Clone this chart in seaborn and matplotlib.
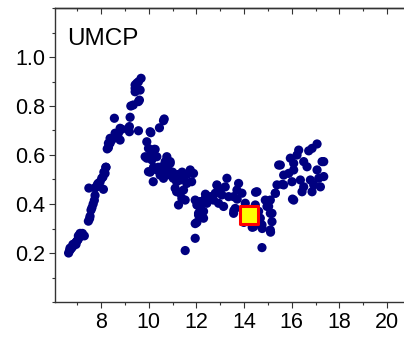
import numpy as np
import pandas as pd
import matplotlib
matplotlib.use("Agg")
import matplotlib.pyplot as plt
import seaborn as sns
from matplotlib.ticker import MultipleLocator

# ---- data ----
seg1_x = [6.64, 6.68, 6.72, 6.76, 6.80, 6.84, 6.88, 6.92, 6.96, 7.00, 7.04, 7.10, 7.16, 7.22, 7.30, 6.70, 6.82, 6.95, 7.05, 7.12]
seg1_y = [0.20, 0.21, 0.215, 0.22, 0.225, 0.23, 0.235, 0.24, 0.245, 0.25, 0.255, 0.265, 0.275, 0.28, 0.27, 0.22, 0.235, 0.235, 0.27, 0.28]

seg2_x = [7.47, 7.52, 7.54, 7.58, 7.62, 7.67, 7.72, 7.75, 7.49, 7.75, 7.80, 7.89, 7.96, 8.10, 8.03, 8.08, 8.17, 8.20, 7.85, 8.12]
seg2_y = [0.33, 0.34, 0.35, 0.375, 0.385, 0.40, 0.415, 0.435, 0.465, 0.465, 0.47, 0.485, 0.49, 0.46, 0.505, 0.51, 0.525, 0.55, 0.48, 0.53]

seg3_x = [8.21, 8.26, 8.31, 8.31, 8.38, 8.38, 8.45, 8.52, 8.59, 8.59, 8.66, 8.73, 8.80, 8.80, 8.87, 8.56, 9.15, 9.19, 9.19, 9.22,
          9.25, 9.35, 9.43, 9.43, 9.43, 9.50, 9.57, 9.64, 9.68, 9.61, 9.57, 9.57]
seg3_y = [0.55, 0.625, 0.63, 0.648, 0.648, 0.668, 0.661, 0.67, 0.675, 0.689, 0.68, 0.689, 0.661, 0.709, 0.705, 0.75, 0.709, 0.716, 0.695, 0.754,
          0.80, 0.804, 0.858, 0.872, 0.886, 0.893, 0.899, 0.865, 0.913, 0.824, 0.818, 0.699]

seg4_x = [9.92, 9.99, 10.06, 10.09, 10.45, 10.62, 10.65, 10.23, 10.27, 9.92, 9.85, 10.06, 10.13, 10.34, 10.76, 10.90, 9.99, 10.06,
          10.34, 10.55, 10.69, 10.90, 10.76, 10.19, 10.48, 10.62, 10.90, 11.03, 11.17, 11.32, 11.46, 11.74, 11.88, 11.80, 11.60,
          11.11, 11.17, 11.32, 11.46, 11.39, 11.25, 11.53, 11.53, 10.20, 10.40, 10.50, 10.80, 11.00, 11.20, 11.40, 11.60]
seg4_y = [0.654, 0.627, 0.695, 0.691, 0.711, 0.74, 0.747, 0.623, 0.623, 0.587, 0.593, 0.60, 0.58, 0.593, 0.593, 0.566, 0.532, 0.53,
          0.539, 0.552, 0.573, 0.573, 0.532, 0.491, 0.518, 0.505, 0.518, 0.505, 0.491, 0.498, 0.505, 0.539, 0.525, 0.491, 0.484,
          0.464, 0.45, 0.444, 0.457, 0.423, 0.396, 0.416, 0.21, 0.55, 0.55, 0.53, 0.55, 0.53, 0.52, 0.53, 0.52]

seg5_x = [11.95, 11.95, 12.02, 12.09, 12.16, 12.23, 12.37, 12.30, 11.95, 12.02, 12.09, 12.16, 12.30, 12.44, 12.58, 12.72, 12.86,
          12.79, 13.00, 13.07, 13.21, 13.28, 12.93, 13.14, 13.35, 13.56, 13.70, 13.77, 13.91, 13.63, 13.56, 13.98, 14.05, 14.54,
          14.47, 14.40, 14.61, 14.68, 14.75, 14.89, 15.03, 15.10, 15.17, 15.10, 14.75, 15.31, 15.45, 15.38, 12.87, 12.38, 14.48,
          15.60, 16.03, 15.11, 14.76, 14.34, 13.99, 13.57, 13.71]
seg5_y = [0.26, 0.32, 0.325, 0.355, 0.382, 0.41, 0.423, 0.37, 0.416, 0.396, 0.362, 0.41, 0.342, 0.403, 0.43, 0.416, 0.478,
          0.444, 0.457, 0.437, 0.47, 0.505, 0.403, 0.39, 0.43, 0.43, 0.457, 0.484, 0.444, 0.382, 0.362, 0.328, 0.403, 0.45,
          0.396, 0.307, 0.37, 0.342, 0.315, 0.416, 0.39, 0.362, 0.328, 0.294, 0.222, 0.444, 0.559, 0.478, 0.475, 0.44, 0.448,
          0.48, 0.42, 0.285, 0.30, 0.305, 0.325, 0.373, 0.42]

seg6_x = [17.06, 16.85, 16.71, 16.29, 16.22, 15.94, 16.08, 16.50, 16.64, 17.27, 17.34, 17.06, 15.52, 15.66, 15.87, 16.08, 16.01,
          15.66, 16.36, 16.50, 16.78, 16.92, 17.13, 17.34, 17.20, 16.85, 16.43, 16.08, 15.31, 15.10, 14.96, 15.17]
seg6_y = [0.645, 0.627, 0.617, 0.62, 0.60, 0.587, 0.566, 0.573, 0.552, 0.573, 0.573, 0.539, 0.559, 0.518, 0.525, 0.539, 0.491,
          0.478, 0.498, 0.47, 0.498, 0.478, 0.505, 0.512, 0.47, 0.45, 0.45, 0.416, 0.444, 0.416, 0.39, 0.362]

highlight_x = [14.19]
highlight_y = [0.355]

label_text = "UMCP"
x_ticks = [8, 10, 12, 14, 16, 18, 20]
y_ticks = [0.2, 0.4, 0.6, 0.8, 1.0]

# ---- figure ----
plt.rcParams['font.family'] = ['Liberation Sans', 'DejaVu Sans']

df = pd.DataFrame({
    "x": seg1_x + seg2_x + seg3_x + seg4_x + seg5_x + seg6_x,
    "y": seg1_y + seg2_y + seg3_y + seg4_y + seg5_y + seg6_y,
})
hl = pd.DataFrame({"x": highlight_x, "y": highlight_y})

fig = plt.figure(figsize=(4.04, 3.38), dpi=100)
ax = fig.add_axes([55 / 404, 1 - 302 / 338, 356 / 404, 294 / 338])

sns.scatterplot(data=df, x="x", y="y", ax=ax, color="#000080", s=44,
                edgecolor="none", linewidth=0, legend=False)
sns.scatterplot(data=hl, x="x", y="y", ax=ax, marker="s", s=150,
                color="#FFFF00", edgecolor="#FF0000", linewidth=2.2, legend=False, zorder=5)

ax.set_xlim(6.07, 21.0)
ax.set_ylim(0.0, 1.2)
ax.set_xticks(x_ticks)
ax.set_yticks(y_ticks)
ax.set_xticklabels([str(t) for t in x_ticks])
ax.set_yticklabels([f"{t:.1f}" for t in y_ticks])
ax.xaxis.set_minor_locator(MultipleLocator(1))
ax.yaxis.set_minor_locator(MultipleLocator(0.1))
ax.set_xlabel("")
ax.set_ylabel("")

for side in ["left", "bottom", "top"]:
    ax.spines[side].set_linewidth(1.0)
    ax.spines[side].set_color("#333333")
ax.spines["right"].set_visible(False)

ax.tick_params(axis="both", which="major", direction="out", length=4, width=0.8,
               labelsize=15.5, colors="#333333", labelcolor="black", pad=3)
ax.tick_params(axis="both", which="minor", direction="out", length=2.5, width=0.8, colors="#333333")
ax.tick_params(axis="x", which="both", top=False, labeltop=False)

# mirror ticks on the top spine, pointing inward
sec = ax.secondary_xaxis("top")
sec.set_xticks(x_ticks)
sec.xaxis.set_minor_locator(MultipleLocator(1))
sec.tick_params(axis="x", which="major", direction="in", length=4, width=0.8, colors="#333333", labeltop=False)
sec.tick_params(axis="x", which="minor", direction="in", length=2.5, width=0.8, colors="#333333")
sec.spines["top"].set_linewidth(1.0)
sec.spines["top"].set_color("#333333")

ax.text(12 / 356, (302 - 45) / 294, label_text, transform=ax.transAxes,
        fontsize=17.5, va="baseline", ha="left", color="black")

fig.savefig("out.png", dpi=100)
